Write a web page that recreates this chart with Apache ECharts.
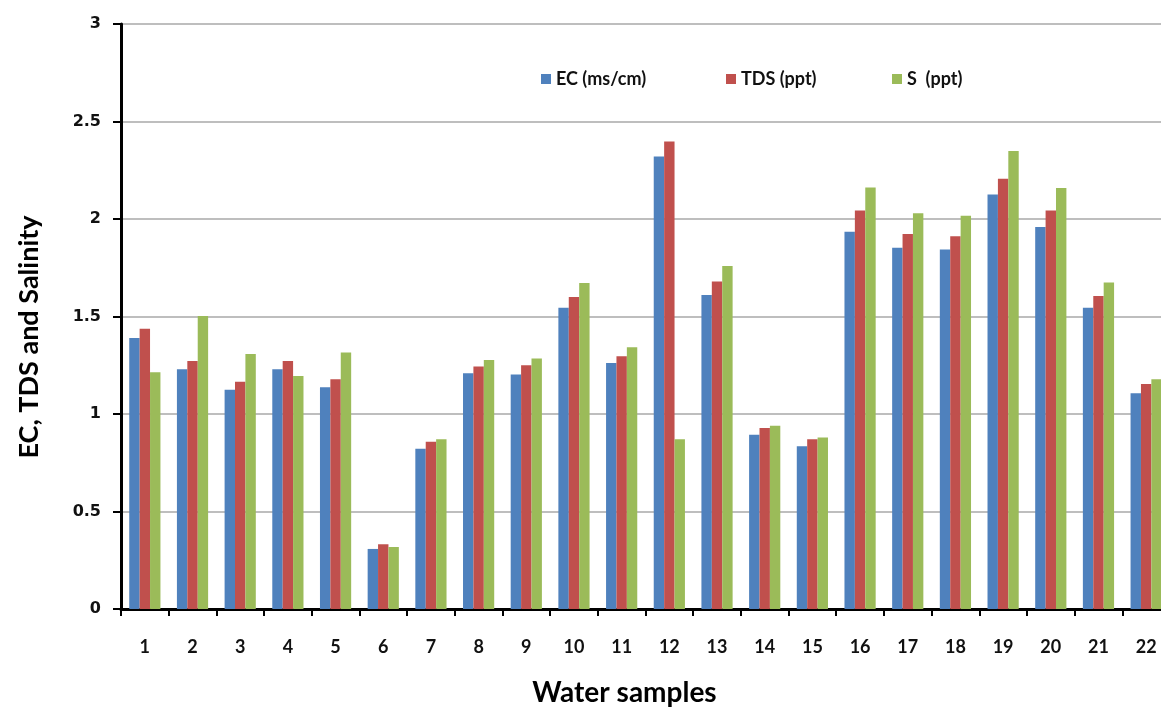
<!DOCTYPE html>
<html>
<head>
<meta charset="utf-8">
<script src="https://cdn.jsdelivr.net/npm/echarts@6/dist/echarts.min.js"></script>
<style>
html,body{margin:0;padding:0;background:#fff;}
#chart{width:1161px;height:707px;}
</style>
</head>
<body>
<div id="chart"></div>
<script>
var categories = ['1','2','3','4','5','6','7','8','9','10','11','12','13','14','15','16','17','18','19','20','21','22'];
var ecValues  = [1.39,1.23,1.125,1.23,1.137,0.308,0.822,1.209,1.202,1.545,1.262,2.32,1.61,0.894,0.834,1.935,1.853,1.843,2.126,1.959,1.545,1.106];
var tdsValues = [1.437,1.272,1.166,1.272,1.178,0.332,0.858,1.243,1.25,1.6,1.296,2.397,1.68,0.928,0.87,2.043,1.923,1.911,2.207,2.043,1.605,1.154];
var sValues   = [1.214,1.503,1.308,1.195,1.315,0.318,0.87,1.277,1.284,1.672,1.342,0.87,1.759,0.94,0.88,2.161,2.029,2.017,2.349,2.159,1.675,1.178];
var seriesNames = ['EC (ms/cm)','TDS (ppt)','S  (ppt)'];
var yTicks = [0,0.5,1,1.5,2,2.5,3];

var colors = ['#4F81BD','#C0504D','#9BBB59'];
var chart = echarts.init(document.getElementById('chart'));
var legendBase = {
  orient:'horizontal', top:65, itemWidth:10, itemHeight:10, itemGap:5,
  icon:'rect',
  textStyle:{fontFamily:'Lato', fontWeight:'bold', fontSize:18, color:'#111'}
};
function mkLegend(name,left){
  var l = Object.assign({}, legendBase);
  l.left = left; l.data = [name];
  return l;
}
var option = {
  animation:false,
  backgroundColor:'#fff',
  color:colors,
  legend:[mkLegend(seriesNames[0],536), mkLegend(seriesNames[1],721), mkLegend(seriesNames[2],887)],
  grid:{left:121, top:24, width:1049, height:585, containLabel:false, outerBoundsMode:'none'},
  xAxis:{
    type:'category',
    data:categories,
    name:'Water samples',
    nameLocation:'middle',
    nameGap:70,
    nameTextStyle:{fontFamily:'Lato', fontWeight:'bold', fontSize:28, color:'#000', padding:[0,42,0,0]},
    axisLine:{lineStyle:{color:'#000', width:3}},
    axisTick:{show:true, length:7, lineStyle:{color:'#000', width:2}},
    axisLabel:{margin:29, fontFamily:'Lato', fontWeight:'bold', fontSize:18, color:'#111'},
    splitLine:{show:false}
  },
  yAxis:{
    type:'value',
    min:yTicks[0], max:yTicks[yTicks.length-1], interval:0.5,
    name:'EC, TDS and Salinity',
    nameLocation:'middle',
    nameRotate:90,
    nameGap:78,
    nameTextStyle:{fontFamily:'Lato', fontWeight:'bold', fontSize:27, color:'#000', padding:[0,41,0,0]},
    axisLine:{show:true, lineStyle:{color:'#000', width:3}},
    axisTick:{show:true, length:8, lineStyle:{color:'#000', width:2}},
    axisLabel:{margin:20, fontFamily:'DejaVu Sans', fontWeight:'bold', fontSize:16, color:'#111'},
    splitLine:{show:true, lineStyle:{color:'#a8a8a8', width:1.5}}
  },
  series:[
    {name:seriesNames[0], type:'bar', data:ecValues, barWidth:10.4, barGap:'0%', itemStyle:{color:colors[0]}},
    {name:seriesNames[1], type:'bar', data:tdsValues, barWidth:10.4, barGap:'0%', itemStyle:{color:colors[1]}},
    {name:seriesNames[2], type:'bar', data:sValues, barWidth:10.4, barGap:'0%', itemStyle:{color:colors[2]}}
  ]
};
chart.setOption(option);
</script>
</body>
</html>
